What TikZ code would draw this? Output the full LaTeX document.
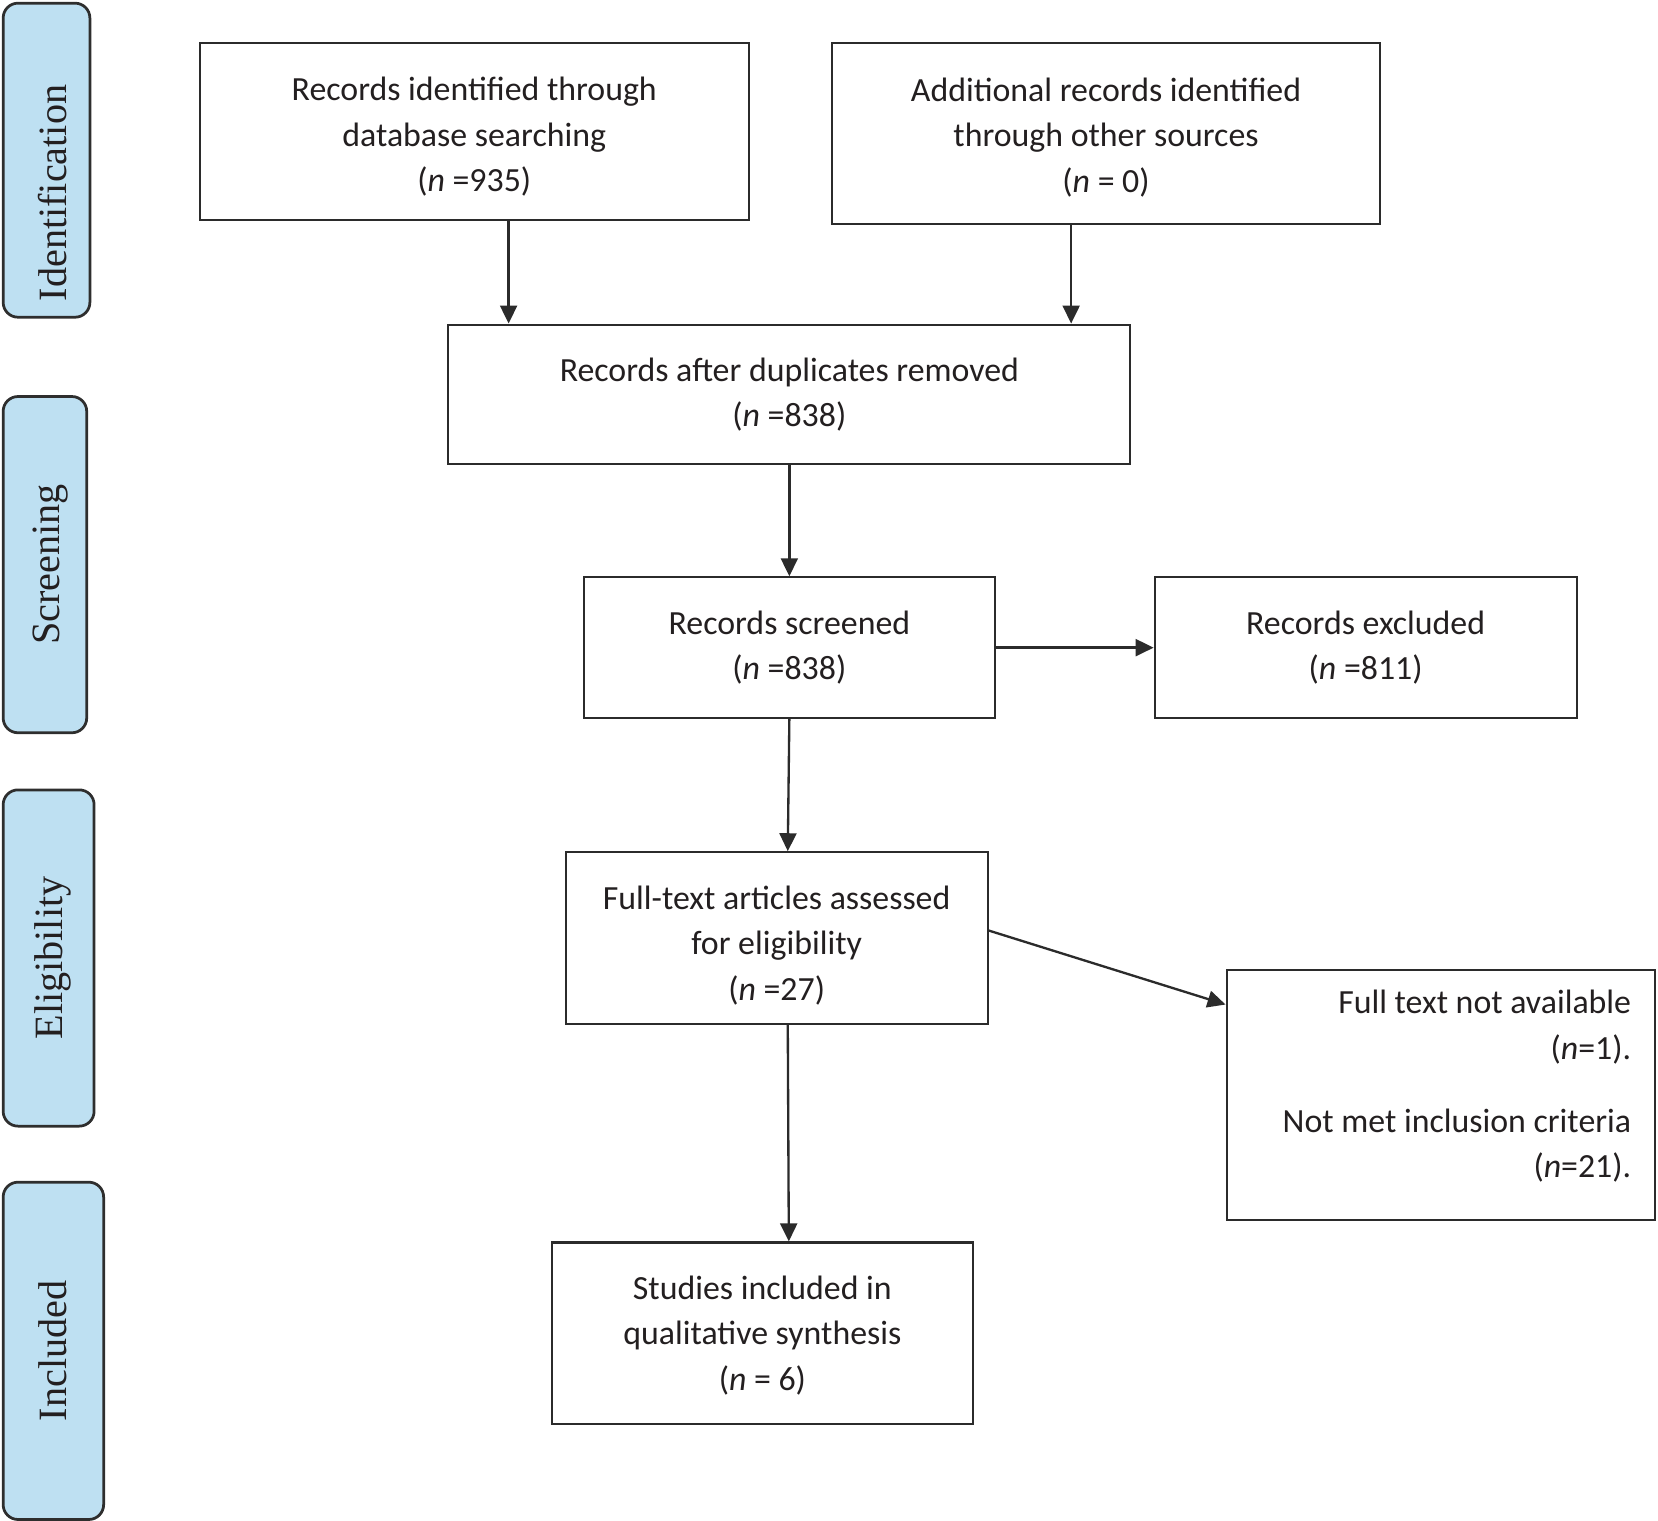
\documentclass[tikz,border=0pt]{standalone}
\usepackage{fontspec}
\setmainfont{Carlito}
\newfontfamily\sidefont{Liberation Serif}
\usetikzlibrary{arrows.meta,calc}
\definecolor{txt}{HTML}{231F20}
\definecolor{boxline}{HTML}{2B2B2B}
\definecolor{sidefill}{HTML}{BEE0F2}
\definecolor{sideline}{HTML}{2E2E2E}
\begin{document}
\begin{tikzpicture}[x=0.5pt,y=-0.5pt,
  box/.style={draw=boxline,line width=1pt,fill=white,inner sep=0pt},
  lbl/.style={align=center,inner sep=0pt,font=\fontsize{16}{21.5}\selectfont,text=txt},
  side/.style={draw=sideline,line width=1.3pt,fill=sidefill,rounded corners=7pt,inner sep=0pt},
  sidetext/.style={rotate=90,inner sep=0pt,font=\sidefont\fontsize{19}{22}\selectfont,text=txt},
  arr/.style={draw=boxline,line width=1.1pt,-{Triangle[length=8.5pt,width=8pt]}}]
\useasboundingbox (0,0) rectangle (1568,1438);

% side phase labels
\node[side,minimum width=41pt,minimum height=148.5pt] (s1) at (44,151.5) {};
\node[sidetext] (t1) at (50,182.5) {Identification};
\node[side,minimum width=39.5pt,minimum height=159pt] (s2) at (42.5,534) {};
\node[sidetext] (t2) at (48,534) {Screening};
\node[side,minimum width=43pt,minimum height=159pt] (s3) at (46,906) {};
\node[sidetext] (t3) at (50,906) {Eligibility};
\node[side,minimum width=47.5pt,minimum height=159.5pt] (s4) at (50.5,1277.5) {};
\node[sidetext] (t4) at (50,1277.5) {Included};

% boxes
\node[box,minimum width=259.5pt,minimum height=83.5pt] (b1) at (448.5,124.5) {};
\node[lbl,yshift=-2.5pt] (b1t) at (b1.center)
  {Records identified through\\database searching\\(\textit{n} =935)};
\node[box,minimum width=259pt,minimum height=85.5pt] (b2) at (1046,126.5) {};
\node[lbl,yshift=-1.75pt] (b2t) at (b2.center)
  {Additional records identified\\through other sources\\(\textit{n} = 0)};
\node[box,minimum width=322.5pt,minimum height=66pt] (b3) at (746.5,373) {};
\node[lbl] (b3t) at (b3.center)
  {Records after duplicates removed\\(\textit{n} =838)};
\node[box,minimum width=194.5pt,minimum height=66.5pt] (b4) at (746.5,612.5) {};
\node[lbl] (b4t) at (b4.center)
  {Records screened\\(\textit{n} =838)};
\node[box,minimum width=199.5pt,minimum height=66.5pt] (b5) at (1291.5,612.5) {};
\node[lbl] (b5t) at (b5.center)
  {Records excluded\\(\textit{n} =811)};
\node[box,minimum width=199.5pt,minimum height=81pt] (b6) at (734.5,887) {};
\node[lbl,yshift=-3.5pt] (b6t) at (b6.center)
  {Full-text articles assessed\\for eligibility\\(\textit{n} =27)};
\node[box,minimum width=202.5pt,minimum height=118.5pt] (b7) at (1362.5,1035.5) {};
\node[lbl,align=right,anchor=east,xshift=-11.5pt,yshift=4pt] (b7t) at (b7.east)
  {Full text not available\\(\textit{n}=1).\\[13pt]Not met inclusion criteria\\(\textit{n}=21).};
\node[box,minimum width=199pt,minimum height=86pt] (b8) at (721,1261) {};
\node[lbl,yshift=-1pt] (b8t) at (b8.center)
  {Studies included in\\qualitative synthesis\\(\textit{n} = 6)};

% connectors
\coordinate (a1) at ([xshift=16.25pt]b1.south);
\draw[arr] (a1) -- (a1 |- b3.north);
\coordinate (a2) at ([xshift=-16.5pt]b2.south);
\draw[arr] (a2) -- (a2 |- b3.north);
\draw[arr] (b3.south) -- (b4.north);
\draw[arr] (b4.east) -- (b5.west);
\draw[arr] (b4.south) -- ([xshift=5.25pt]b6.north);
\draw[arr] ([yshift=3.5pt]b6.east) -- ([yshift=42.75pt]b7.west);
\draw[arr] ([xshift=5.25pt]b6.south) -- ([xshift=12.5pt]b8.north);
\end{tikzpicture}
\end{document}
